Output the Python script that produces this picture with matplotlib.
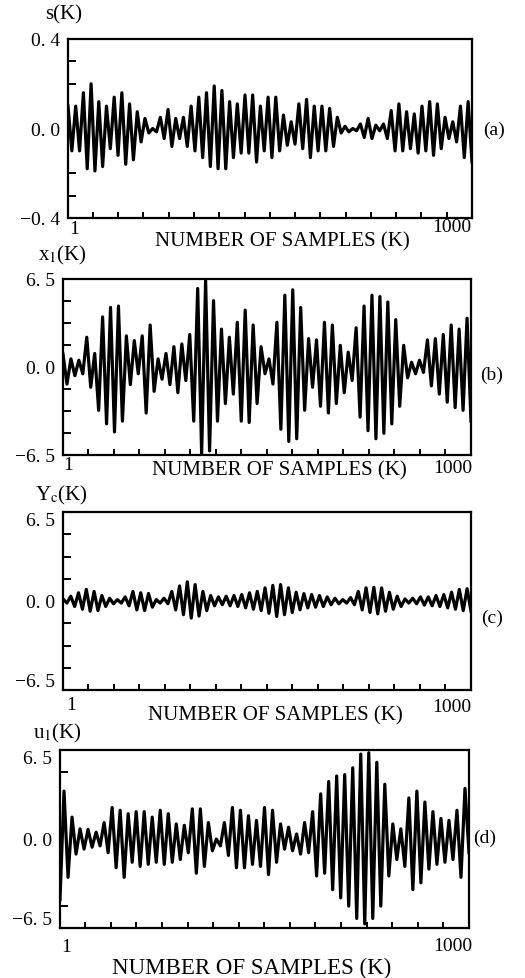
import numpy as np
import matplotlib.pyplot as plt

plt.rcParams['font.family'] = ['Liberation Serif', 'DejaVu Serif']
plt.rcParams['mathtext.fontset'] = 'stix'

# ----------------------
# peak values (upper / lower swing of each cycle)
# ----------------------

a_hi = [0.10, 0.10, 0.16, 0.20, 0.12, 0.10, 0.14, 0.16, 0.11, 0.075,
        0.045, 0.0, 0.05, 0.085, 0.045, 0.05, 0.10, 0.14, 0.16, 0.19,
        0.17, 0.12, 0.11, 0.15, 0.15, 0.10,
        0.14, 0.14, 0.06, 0.03, 0.11, 0.13, 0.10, 0.10, 0.09, 0.05,
        0.01, 0.0, 0.02, 0.045, 0.015, 0.02, 0.08, 0.11, 0.075, 0.065,
        0.10, 0.12, 0.11, 0.05, 0.03, 0.10, 0.12]
a_lo = [-0.10, -0.10, -0.18, -0.19, -0.17, -0.09, -0.12, -0.16, -0.14, -0.06,
        -0.02, -0.015, -0.045, -0.08, -0.045, -0.08, -0.10, -0.13, -0.17, -0.18,
        -0.18, -0.13, -0.11, -0.11, -0.15, -0.10,
        -0.13, -0.10, -0.075, -0.07, -0.09, -0.13, -0.10, -0.10, -0.08, -0.02,
        -0.015, -0.01, -0.04, -0.045, -0.01, -0.045, -0.10, -0.10, -0.09, -0.11,
        -0.10, -0.12, -0.09, -0.045, -0.06, -0.13, -0.15]

b_hi = [0.96, 0.6, 0.5, 2.2, 1.0, 3.7, 4.4, 4.5, 2.3, 1.95,
        2.3, 3.1, 0.6, 1.0, 1.5, 1.7, 2.4, 5.8, 6.4, 4.9,
        2.8, 2.2, 3.3, 4.2, 3.1, 1.5,
        0.6, 3.3, 5.3, 5.7, 4.4, 2.1, 2.0, 3.3, 3.1, 1.6,
        1.1, 2.9, 4.5, 5.3, 5.2, 4.8, 3.5, 1.6, 0.35, 0.5,
        2.0, 2.1, 2.4, 3.1, 2.8, 3.6]
b_lo = [-1.26, -0.64, -0.5, -1.5, -3.2, -4.2, -4.8, -4.0, -1.3, -0.5,
        -3.4, -1.8, -0.9, -1.3, -1.9, -1.0, -4.0, -6.4, -6.2, -4.0,
        -2.7, -2.0, -4.0, -4.1, -2.7, -0.5,
        -1.26, -4.6, -5.5, -5.3, -3.2, -1.5, -2.9, -3.4, -2.7, -1.9,
        -1.0, -3.7, -4.7, -5.3, -4.9, -4.2, -2.9, -0.8, -0.5, -0.4,
        -1.4, -2.0, -2.6, -3.0, -3.2, -4.0]

c_hi = [0.15, 0.35, 0.6, 0.85, 0.7, 0.4, 0.2, 0.1, 0.3, 0.7,
        0.6, 0.55, 0.1, 0.2, 0.7, 1.1, 1.4, 1.2, 0.7, 0.4,
        0.3, 0.35, 0.4, 0.47, 0.6, 0.7, 0.96, 1.14, 1.2, 0.96,
        0.64, 0.54, 0.47, 0.4, 0.3, 0.2, 0.1, 0.25, 0.7, 0.96,
        1.0, 0.96, 0.64, 0.35, 0.15, 0.2, 0.3, 0.3, 0.4, 0.47,
        0.64, 0.85, 0.9]
c_lo = [-0.15, -0.4, -0.6, -0.75, -0.7, -0.4, -0.2, -0.15, -0.35, -0.65,
        -0.7, -0.45, -0.15, -0.2, -0.65, -1.0, -1.25, -1.1, -0.7, -0.35,
        -0.27, -0.35, -0.4, -0.5, -0.6, -0.7, -0.9, -1.13, -1.0, -0.84,
        -0.64, -0.5, -0.45, -0.4, -0.27, -0.2, -0.15, -0.27, -0.65, -0.84,
        -0.94, -0.75, -0.6, -0.4, -0.15, -0.2, -0.3, -0.35, -0.4, -0.5,
        -0.6, -0.7, -0.75]

d_start = [-4.4]
d_hi = [3.5, 1.6, 0.74, 0.7, 0.5, 1.2, 2.3, 2.1, 1.85, 2.0,
        2.0, 1.6, 2.1, 1.85, 1.1, 1.0, 2.2, 2.2, 1.2, 0.0,
        1.2, 2.3, 2.1, 1.7, 1.36,
        2.3, 2.1, 1.1, 0.86, 0.37, 1.2, 2.0, 3.3, 4.2, 4.6,
        4.7, 5.2, 6.2, 6.3, 5.6, 4.0, 1.1, 0.74, 3.0, 3.5,
        2.7, 2.0, 1.5, 1.36, 2.1, 3.7]
d_lo = [-2.8, -1.1, -0.74, -0.6, -0.5, -1.0, -2.1, -2.8, -1.7, -2.0,
        -1.85, -1.7, -1.85, -1.7, -1.5, -1.0, -2.5, -2.0, -0.86, -0.5,
        -1.2, -2.1, -2.1, -1.85, -2.0,
        -2.6, -1.7, -0.74, -0.86, -1.1, -1.0, -2.7, -2.5, -3.7, -4.3,
        -4.9, -5.8, -6.2, -5.8, -4.9, -2.7, -1.5, -2.0, -3.7, -3.2,
        -2.2, -1.85, -1.7, -1.5, -2.8, -1.0]

n_samples = 1000


def trace(hi, lo, start=()):
    vals = np.concatenate([start, np.column_stack([hi, lo]).ravel()])
    k = np.linspace(1, n_samples, len(vals))
    return k, vals


W, H = 525, 979
fig = plt.figure(figsize=(W / 100, H / 100), dpi=100)


def fx(px):
    return px / W


def fy(py):
    return 1 - py / H


panels = [
    # series, ylim, frame (left, top, right, bottom px), texts
    dict(data=trace(a_hi, a_lo), lim=0.4, box=(68, 40, 472, 219),
         hide=[3, 4, 5], shift_ends=False,
         ylab='s(K)', ylab_xy=(64, 15), tag='(a)', tag_xy=(494, 130),
         ticklab=['\u22120. 4', '0. 0', '0. 4'],
         one_xy=(74, 229), k_xy=(452, 228), xl_xy=(282, 242), xl_fs=15),
    dict(data=trace(b_hi, b_lo), lim=6.5, box=(63, 280, 471, 456),
         hide=[4], shift_ends=False,
         ylab='x$_1$(K)', ylab_xy=(62, 255), tag='(b)', tag_xy=(492, 375),
         ticklab=['\u22126. 5', '0. 0', '6. 5'],
         one_xy=(68, 466), k_xy=(453, 469), xl_xy=(279, 471), xl_fs=15),
    dict(data=trace(c_hi, c_lo), lim=6.5, box=(63, 513, 471, 691),
         hide=[4], shift_ends=True,
         ylab='Y$_\\mathrm{c}$(K)', ylab_xy=(61, 495), tag='(c)', tag_xy=(492, 618),
         ticklab=['\u22126. 5', '0. 0', '6. 5'],
         one_xy=(71, 706), k_xy=(452, 708), xl_xy=(275, 716), xl_fs=15),
    dict(data=trace(d_hi, d_lo, d_start), lim=6.5, box=(60, 751, 469, 929),
         hide=[2, 3, 4, 5, 6], shift_ends=True,
         ylab='u$_1$(K)', ylab_xy=(57, 733), tag='(d)', tag_xy=(485, 838),
         ticklab=['\u22126. 5', '0. 0', '6. 5'],
         one_xy=(66, 948), k_xy=(453, 947), xl_xy=(252, 968), xl_fs=16.5),
]

for p in panels:
    l, t, r, b = p['box']
    ax = fig.add_axes([fx(l), fy(b), (r - l) / W, (b - t) / H])
    k, v = p['data']
    ax.plot(k, v, color='black', lw=2.3, solid_joinstyle='round')
    lim = p['lim']
    ax.set_xlim(1, n_samples)
    ax.set_ylim(-lim, lim)
    for s in ax.spines.values():
        s.set_linewidth(1.6)

    yt = np.linspace(-lim, lim, 9)
    labels = [''] * 9
    labels[0], labels[4], labels[8] = p['ticklab']
    ax.set_yticks(yt)
    ax.set_yticklabels(labels, fontsize=14)
    ax.set_xticks(np.arange(62.5, n_samples, 62.5))
    ax.set_xticklabels([])
    ax.tick_params(axis='y', direction='in', length=6, width=1.4, pad=6)
    ax.tick_params(axis='x', direction='in', length=4, width=1.4)
    for i, tk in enumerate(ax.yaxis.get_major_ticks()):
        if i in p['hide'] or i in (0, 8):
            tk.tick1line.set_visible(False)
    if p['shift_ends']:
        tls = ax.get_yticklabels()
        tls[0].set_va('bottom')
        tls[8].set_va('top')

    fig.text(fx(p['ylab_xy'][0]), fy(p['ylab_xy'][1]), p['ylab'],
             fontsize=15, ha='center', va='center')
    fig.text(fx(p['tag_xy'][0]), fy(p['tag_xy'][1]), p['tag'],
             fontsize=14, ha='center', va='center')
    fig.text(fx(p['one_xy'][0]), fy(p['one_xy'][1]), '1',
             fontsize=14, ha='center', va='center')
    fig.text(fx(p['k_xy'][0]), fy(p['k_xy'][1]), '1000',
             fontsize=14, ha='center', va='center')
    fig.text(fx(p['xl_xy'][0]), fy(p['xl_xy'][1]), 'NUMBER OF SAMPLES (K)',
             fontsize=p['xl_fs'], ha='center', va='center')

fig.savefig('out.png', dpi=100)
